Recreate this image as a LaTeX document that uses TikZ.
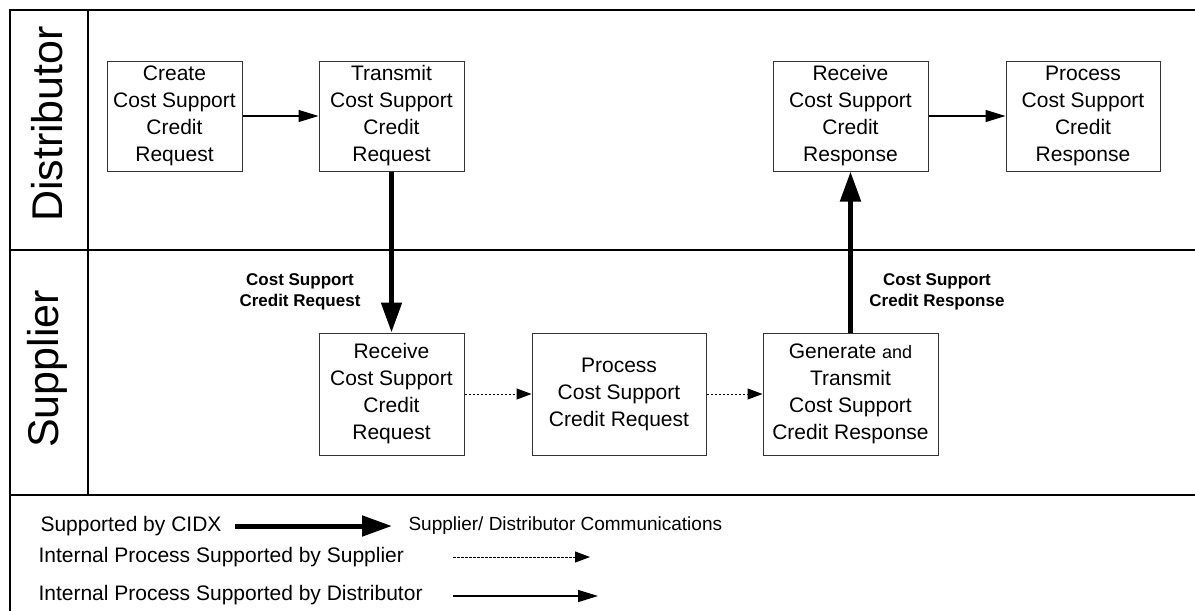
\documentclass[tikz,border=0pt]{standalone}
\usepackage{fontspec}
\setmainfont{Liberation Sans}
\usetikzlibrary{arrows.meta}

\begin{document}
\begin{tikzpicture}[
    x=1pt, y=-1pt,
    step box/.style={draw=black!80, line width=1pt, inner sep=0pt, align=center, font=\fontsize{21}{27}\selectfont},
    lane/.style={rotate=90, font=\fontsize{43}{47}\selectfont},
    msg/.style={align=center, font=\fontsize{17}{21}\selectfont\bfseries},
    legtext/.style={anchor=west, font=\fontsize{21}{25}\selectfont},
    frame/.style={line width=2pt},
    cidx/.style={line width=5pt, -{Triangle[length=30pt,width=20pt]}},
    distflow/.style={line width=1.3pt, -{Triangle[length=20pt,width=12pt]}},
    suppflow/.style={line width=1pt, dash pattern=on 2.5pt off 1.5pt, -{Triangle[length=15pt,width=11pt]}},
]
    \useasboundingbox (0,0) rectangle (1195,611);

    % Swimlane frame
    \draw[frame] (1195,10) -- (10,10) -- (10,611);
    \draw[frame] (10,250) -- (1195,250);
    \draw[frame] (10,495) -- (1195,495);
    \draw[frame] (88,10) -- (88,495);

    % Lane titles
    \node[lane] (dist) at (47,124) {Distributor};
    \node[lane] (supp) at (47,369) {Supplier};

    % Distributor steps
    \node[step box, minimum width=135pt, minimum height=110pt] (create) at (174.5,116) {Create\\Cost Support\\Credit\\Request};
    \node[step box, minimum width=145pt, minimum height=110pt] (transmit) at (391.5,116) {Transmit\\Cost Support\\Credit\\Request};
    \node[step box, minimum width=155pt, minimum height=110pt] (recvresp) at (850.5,116) {Receive\\Cost Support\\Credit\\Response};
    \node[step box, minimum width=154pt, minimum height=110pt] (procresp) at (1083,116) {Process\\Cost Support\\Credit\\Response};

    % Supplier steps
    \node[step box, minimum width=145pt, minimum height=122pt] (recvreq) at (391.5,394) {Receive\\Cost Support\\Credit\\Request};
    \node[step box, minimum width=174pt, minimum height=122pt] (procreq) at (619,394) {Process\\Cost Support\\Credit Request};
    \node[step box, minimum width=175pt, minimum height=122pt] (genresp) at (850.5,394) {Generate {\fontsize{18}{27}\selectfont and}\\Transmit\\Cost Support\\Credit Response};

    % Flows
    \draw[distflow] (create) -- (transmit);
    \draw[distflow] (recvresp) -- (procresp);
    \draw[cidx] (transmit.south) -- (recvreq.north);
    \draw[cidx] (genresp.north) -- (recvresp.south);
    \draw[suppflow] (recvreq) -- (procreq);
    \draw[suppflow] (procreq) -- (genresp);

    % Message labels
    \node[msg] (reqmsg) at (300,292) {Cost Support\\Credit Request};
    \node[msg] (respmsg) at (937,292) {Cost Support\\Credit Response};

    % Legend
    \node[legtext] (legcidx) at (37,526) {Supported by CIDX};
    \node[legtext, font=\fontsize{19}{23}\selectfont] (legcomm) at (405,526) {Supplier/ Distributor Communications};
    \node[legtext] (legsupp) at (35,557) {Internal Process Supported by Supplier};
    \node[legtext] (legdist) at (35,595) {Internal Process Supported by Distributor};
    \coordinate (c1a) at (235,526);
    \coordinate (c1b) at (392,526);
    \coordinate (c2a) at (453,557);
    \coordinate (c2b) at (590,557);
    \coordinate (c3a) at (453,596);
    \coordinate (c3b) at (598,596);
    \draw[cidx] (c1a) -- (c1b);
    \draw[suppflow] (c2a) -- (c2b);
    \draw[distflow] (c3a) -- (c3b);
\end{tikzpicture}
\end{document}
